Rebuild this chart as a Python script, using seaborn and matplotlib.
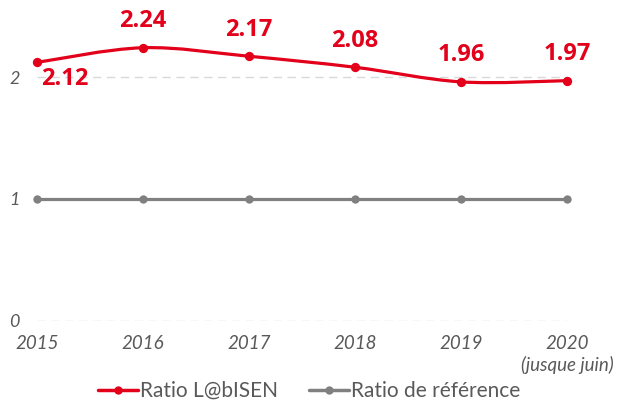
import numpy as np
import pandas as pd
import matplotlib
matplotlib.use("Agg")
import matplotlib.pyplot as plt
from matplotlib.path import Path
from matplotlib.patches import PathPatch
from matplotlib.lines import Line2D
import seaborn as sns

years = [2015, 2016, 2017, 2018, 2019, 2020]
year_labels = ["2015", "2016", "2017", "2018", "2019", "2020\n(jusque juin)"]
ratio_labisen = [2.12, 2.24, 2.17, 2.08, 1.96, 1.97]
ratio_reference = [1, 1, 1, 1, 1, 1]
series_names = ["Ratio L@bISEN", "Ratio de référence"]

RED = "#E2001A"
GREY = "#808080"
TXT = "#595959"

sns.set_theme(style="white")
plt.rcParams["font.family"] = ["Lato", "DejaVu Sans"]

df = pd.DataFrame({"year": years * 2,
                   "value": ratio_labisen + ratio_reference,
                   "series": [series_names[0]] * 6 + [series_names[1]] * 6})

fig = plt.figure(figsize=(6.18, 4.03), dpi=100)
ax = fig.add_axes([37 / 618, 0.2035, 530 / 618, 0.7265])

# grid
for yv in [0, 1, 2]:
    ax.axhline(yv, color="#D9D9D9", lw=1, ls=(0, (6, 4)), zorder=0)

# reference line
sns.lineplot(data=df[df.series == series_names[1]], x="year", y="value", ax=ax,
             color=GREY, lw=2.3, marker="o", markersize=6, markeredgewidth=0,
             legend=False, clip_on=False, zorder=3)

# smooth red line (Catmull-Rom -> Bezier)
xs = np.array(years, dtype=float)
ys = np.array(ratio_labisen, dtype=float)
verts = [(xs[0], ys[0])]
codes = [Path.MOVETO]
n = len(xs)
for i in range(n - 1):
    p0 = (xs[max(i - 1, 0)], ys[max(i - 1, 0)])
    p1 = (xs[i], ys[i])
    p2 = (xs[i + 1], ys[i + 1])
    p3 = (xs[min(i + 2, n - 1)], ys[min(i + 2, n - 1)])
    t = 1 / 6
    c1 = (p1[0] + (p2[0] - p0[0]) * t, p1[1] + (p2[1] - p0[1]) * t)
    c2 = (p2[0] - (p3[0] - p1[0]) * t, p2[1] - (p3[1] - p1[1]) * t)
    verts += [c1, c2, p2]
    codes += [Path.CURVE4] * 3
patch = PathPatch(Path(verts, codes), facecolor="none", edgecolor=RED, lw=2.3,
                  transform=ax.transData, clip_on=False, zorder=4, capstyle="round")
ax.add_patch(patch)
sns.scatterplot(x=years, y=ratio_labisen, ax=ax, color=RED, s=45, linewidth=0,
                clip_on=False, zorder=5, legend=False)

# value labels
for i, (x, y) in enumerate(zip(years, ratio_labisen)):
    off = (20, -12) if i == 0 else (0, 19)
    ax.annotate(f"{y:.2f}", (x, y), xytext=off, textcoords="offset points",
                ha="center", va="center", color=RED, fontsize=17, fontweight="bold",
                family=["Open Sans", "DejaVu Sans"])

ax.set_xlim(2015, 2020)
ax.set_ylim(0, 2.4)
ax.set_xticks(years)
ax.set_xticklabels(year_labels, fontsize=13.5, style="italic", color=TXT,
                   linespacing=1.25)
ax.set_yticks([0, 1, 2])
ax.set_yticklabels(["0", "1", "2"], fontsize=13, style="italic", color=TXT)
ax.tick_params(axis="x", length=0, pad=10)
ax.tick_params(axis="y", length=0, pad=16)
for lab in ax.get_yticklabels():
    lab.set_horizontalalignment("center")
for s in ax.spines.values():
    s.set_visible(False)
ax.set_xlabel("")
ax.set_ylabel("")

handles = [Line2D([0], [0], color=RED, lw=2.5, marker="o", markersize=6, markeredgewidth=0),
           Line2D([0], [0], color=GREY, lw=2.5, marker="o", markersize=6, markeredgewidth=0)]
leg = fig.legend(handles, series_names, loc="center", bbox_to_anchor=(0.5, 0.03),
                 ncol=2, frameon=False, handlelength=1.9, handletextpad=0.1,
                 columnspacing=1.5, labelcolor=TXT, prop={"size": 15})

fig.savefig("out.png", dpi=100)
